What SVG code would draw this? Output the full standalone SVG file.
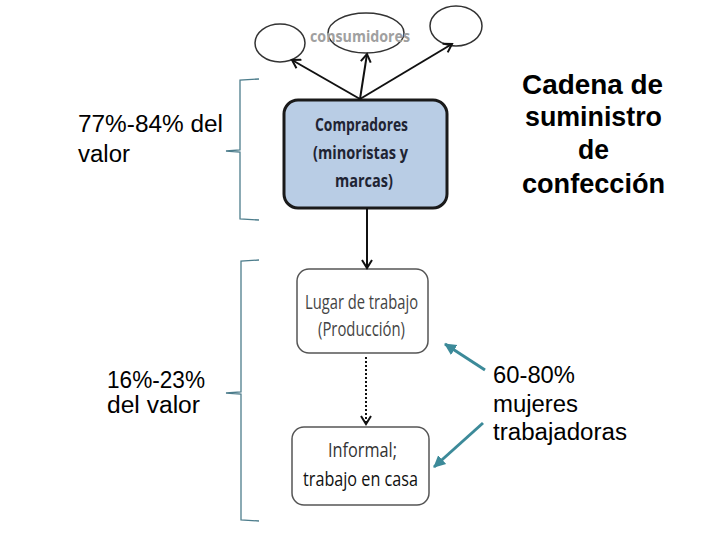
<svg xmlns="http://www.w3.org/2000/svg" width="720" height="540" viewBox="0 0 720 540">
<defs>
<style>
.ell{fill:#fff;stroke:#333;stroke-width:1.5}
.lbl{font-family:"Liberation Sans",Arial,sans-serif;fill:#000}
.box{font-family:"Open Sans","Liberation Sans",sans-serif}
.conn{stroke:#111;stroke-width:2;fill:none}
.brace{stroke:#4d7d8c;stroke-width:1.3;fill:none}
.teal{stroke:#3c8a99;stroke-width:3;fill:none}
</style>
<marker id="ah" markerWidth="12" markerHeight="12" refX="9" refY="6" orient="auto" markerUnits="userSpaceOnUse">
<path d="M1,1 L9,6 L1,11" fill="none" stroke="#111" stroke-width="2"/>
</marker>
<marker id="ta" markerWidth="14" markerHeight="14" refX="11" refY="7" orient="auto" markerUnits="userSpaceOnUse">
<path d="M0,1 L12,7 L0,13 Z" fill="#3c8a99"/>
</marker>
</defs>
<rect width="720" height="540" fill="#fff"/>
<g id="consumidores">
<ellipse class="ell" cx="280" cy="43" rx="25" ry="19"/>
<ellipse class="ell" cx="366" cy="33" rx="38" ry="20"/>
<ellipse class="ell" cx="456" cy="26" rx="26" ry="20"/>
<text x="310" y="42" class="box" font-size="16" font-weight="bold" fill="#a0a0a0" textLength="100" lengthAdjust="spacingAndGlyphs">consumidores</text>
</g>
<g id="compradores">
<rect x="284" y="100" width="163" height="108" rx="14" fill="#b9cde5" stroke="#1a1a1a" stroke-width="3"/>
<text class="box" font-size="18" font-weight="bold" fill="#1f2433">
<tspan x="315" y="131" textLength="93" lengthAdjust="spacingAndGlyphs">Compradores</tspan>
<tspan x="313" y="159" textLength="95" lengthAdjust="spacingAndGlyphs">(minoristas y</tspan>
<tspan x="335" y="187" textLength="58" lengthAdjust="spacingAndGlyphs">marcas)</tspan>
</text>
</g>
<g id="lugar">
<rect x="297" y="269" width="131" height="84" rx="12" fill="#fff" stroke="#555" stroke-width="1.5"/>
<text class="box" font-size="20" fill="#444">
<tspan x="305" y="309" textLength="113" lengthAdjust="spacingAndGlyphs">Lugar de trabajo</tspan>
<tspan x="318" y="336" textLength="87" lengthAdjust="spacingAndGlyphs">(Producción)</tspan>
</text>
</g>
<g id="informal">
<rect x="292" y="427" width="137" height="78" rx="12" fill="#fff" stroke="#555" stroke-width="1.5"/>
<text class="box" font-size="20" fill="#333">
<tspan x="328" y="457" textLength="69" lengthAdjust="spacingAndGlyphs">Informal;</tspan>
<tspan x="303" y="486" textLength="115" lengthAdjust="spacingAndGlyphs" fill="#111">trabajo en casa</tspan>
</text>
</g>
<g id="connectors">
<line class="conn" x1="360" y1="99" x2="292" y2="60" marker-end="url(#ah)"/>
<line class="conn" x1="360" y1="99" x2="367" y2="54" marker-end="url(#ah)"/>
<line class="conn" x1="360" y1="99" x2="452" y2="44" marker-end="url(#ah)"/>
<line class="conn" x1="367" y1="208" x2="367" y2="268" marker-end="url(#ah)"/>
<line class="conn" x1="366" y1="357" x2="366" y2="424" stroke-dasharray="2,2" stroke-width="1.5" marker-end="url(#ah)"/>
<line class="teal" x1="485" y1="370" x2="445" y2="344" marker-end="url(#ta)"/>
<line class="teal" x1="483" y1="423" x2="434" y2="467" marker-end="url(#ta)"/>
</g>
<g id="brackets">
<path class="brace" d="M259,79 L240,80 L240,150 L226,151 L240,152 L240,219 L259,220"/>
<path class="brace" d="M259,260 L241,261 L241,392 L226,393 L241,394 L241,520 L259,521"/>
</g>
<g id="labels">
<text class="lbl" font-size="23">
<tspan x="78" y="132" textLength="145" lengthAdjust="spacingAndGlyphs">77%-84% del</tspan>
<tspan x="78" y="162" textLength="52" lengthAdjust="spacingAndGlyphs">valor</tspan>
</text>
<text class="lbl" font-size="23">
<tspan x="107" y="388" textLength="98" lengthAdjust="spacingAndGlyphs">16%-23%</tspan>
<tspan x="107" y="413" textLength="93" lengthAdjust="spacingAndGlyphs">del valor</tspan>
</text>
<text class="lbl" font-size="28" font-weight="bold">
<tspan x="522" y="94" textLength="141" lengthAdjust="spacingAndGlyphs">Cadena de</tspan>
<tspan x="525" y="126" textLength="137" lengthAdjust="spacingAndGlyphs">suministro</tspan>
<tspan x="578" y="159" textLength="31" lengthAdjust="spacingAndGlyphs">de</tspan>
<tspan x="522" y="193" textLength="143" lengthAdjust="spacingAndGlyphs">confección</tspan>
</text>
<text class="lbl" font-size="23">
<tspan x="493" y="383" textLength="82" lengthAdjust="spacingAndGlyphs">60-80%</tspan>
<tspan x="493" y="412" textLength="85" lengthAdjust="spacingAndGlyphs">mujeres</tspan>
<tspan x="493" y="440" textLength="134" lengthAdjust="spacingAndGlyphs">trabajadoras</tspan>
</text>
</g>
</svg>
